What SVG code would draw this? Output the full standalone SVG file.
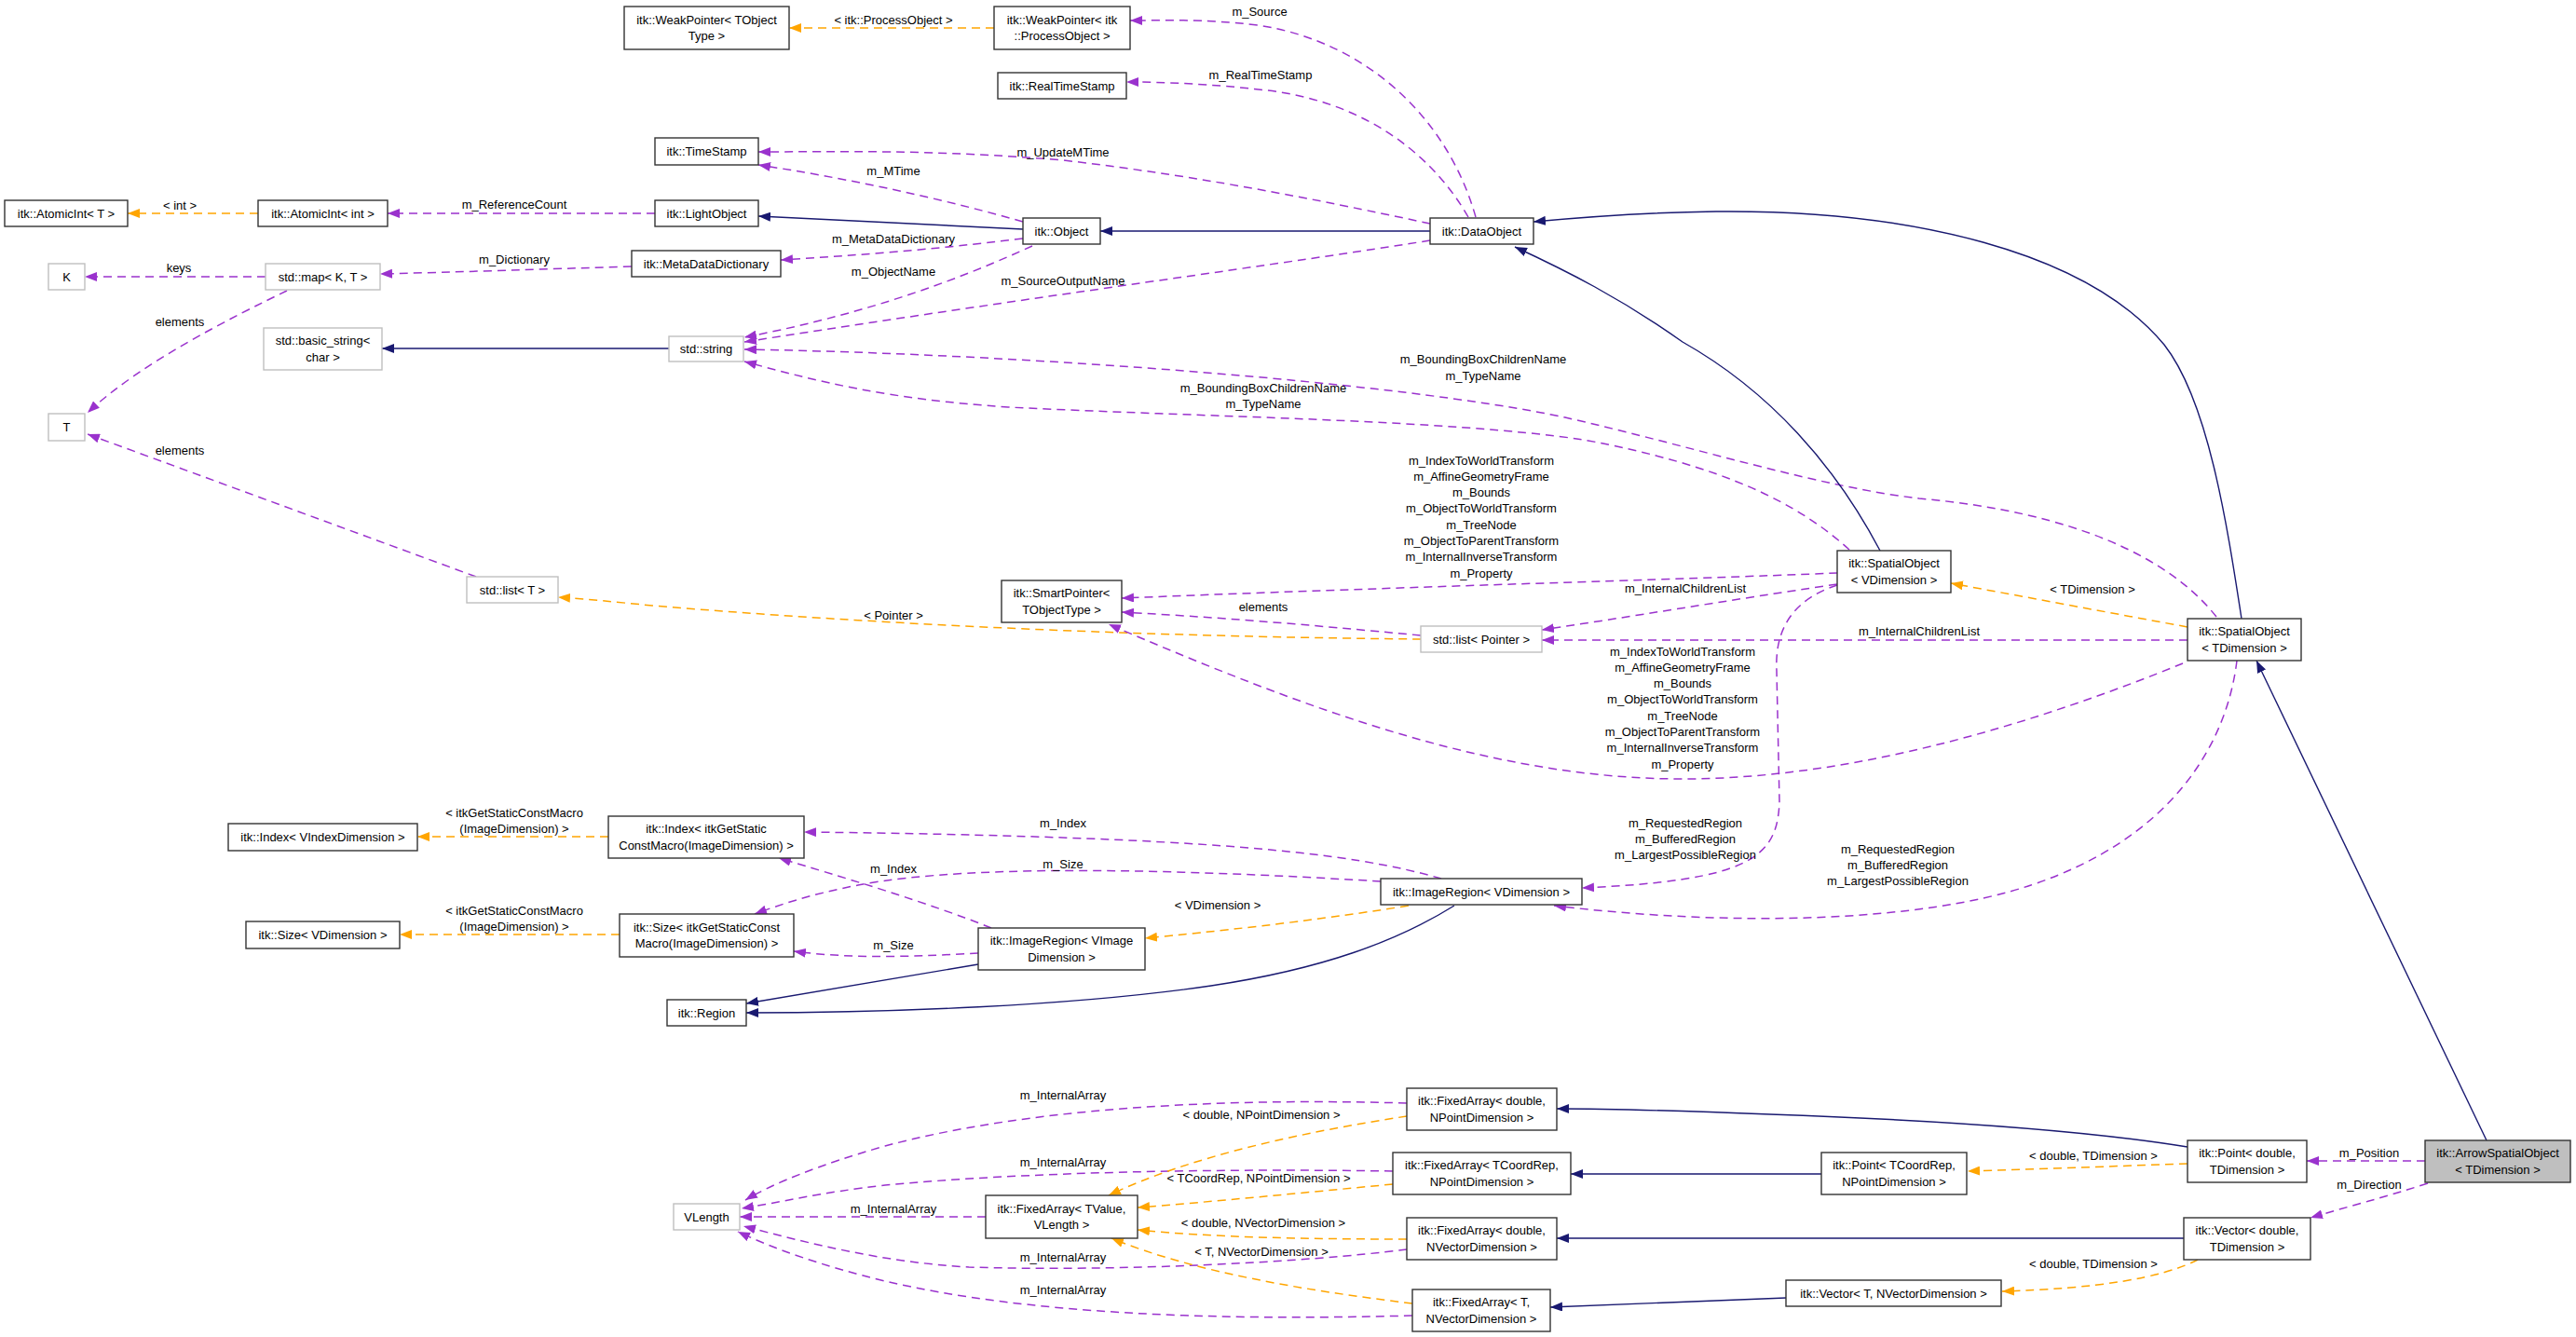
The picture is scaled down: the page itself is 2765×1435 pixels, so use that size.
<svg xmlns="http://www.w3.org/2000/svg" width="2765" height="1435" viewBox="0 0 2765 1435">
<style>
text{font-family:"Liberation Sans",Arial,Helvetica,sans-serif;font-size:13px;fill:#000;text-anchor:middle}
.n rect{fill:#fff;stroke:#333;stroke-width:1.4}
.g rect{fill:#fff;stroke:#bfbfbf;stroke-width:1.4}
.cur rect{fill:#bfbfbf;stroke:#333;stroke-width:1.4}
#edges path{fill:none}
.inh{stroke:#191970;stroke-width:1.4;marker-end:url(#ab)}
.use{stroke:#9a32cd;stroke-width:1.5;stroke-dasharray:9,6;marker-end:url(#ap)}
.tpl{stroke:#ffa500;stroke-width:1.5;stroke-dasharray:9,6;marker-end:url(#ao)}
</style>
<defs>
<marker id="ab" markerWidth="14" markerHeight="10" refX="13" refY="5" orient="auto" markerUnits="userSpaceOnUse"><path d="M0,0 L13,5 L0,10 z" fill="#191970"/></marker>
<marker id="ap" markerWidth="14" markerHeight="10" refX="13" refY="5" orient="auto" markerUnits="userSpaceOnUse"><path d="M0,0 L13,5 L0,10 z" fill="#9a32cd"/></marker>
<marker id="ao" markerWidth="14" markerHeight="10" refX="13" refY="5" orient="auto" markerUnits="userSpaceOnUse"><path d="M0,0 L13,5 L0,10 z" fill="#ffa500"/></marker>
</defs>
<rect width="2765" height="1435" fill="#fff"/>
<g id="edges">
<path class="tpl" d="M1067,30 L847,30"/>
<path class="use" d="M1584,233 C1555,130 1470,45 1350,27 C1290,20 1250,22 1213,22"/>
<path class="use" d="M1576,233 C1540,170 1470,110 1360,97 C1300,90 1250,88 1209,88"/>
<path class="use" d="M1535,240 C1450,222 1300,190 1141,172 C1000,160 900,163 814,163"/>
<path class="use" d="M1098,238 C1000,210 900,190 814,177"/>
<path class="inh" d="M1098,246 L814,232"/>
<path class="use" d="M703,229 L416,229"/>
<path class="tpl" d="M277,229 L137,229"/>
<path class="use" d="M1098,256 C1000,268 920,274 838,279"/>
<path class="use" d="M678,286 C580,289 490,292 408,294"/>
<path class="use" d="M285,297 L91,297"/>
<path class="use" d="M308,312 C250,340 150,390 94,443"/>
<path class="use" d="M511,619 L94,466"/>
<path class="inh" d="M718,374 L410,374"/>
<path class="use" d="M1108,264 C1040,295 940,335 799,362"/>
<path class="use" d="M1535,258 C1400,280 1100,320 799,367"/>
<path class="use" d="M2379,662 C2330,600 2230,550 2060,535 C1950,522 1820,480 1680,448 C1500,410 1100,380 799,375"/>
<path class="use" d="M1985,590 C1930,540 1850,500 1700,472 C1550,450 1300,448 1082,437 C950,428 880,410 799,388"/>
<path class="inh" d="M2018,591 C1970,500 1900,420 1806,367 C1740,320 1680,290 1626,265"/>
<path class="inh" d="M2406,664 C2390,560 2370,430 2323,370 C2240,270 2050,225 1842,227 C1760,228 1700,233 1646,238"/>
<path class="inh" d="M1535,248 L1181,248"/>
<path class="use" d="M1972,615 C1800,622 1500,630 1204,642"/>
<path class="use" d="M1525,682 C1400,670 1300,662 1204,657"/>
<path class="use" d="M1972,627 C1850,645 1750,662 1655,676"/>
<path class="use" d="M2348,687 L1655,687"/>
<path class="tpl" d="M1525,686 C1300,684 1000,675 700,650 C660,646 630,643 599,641"/>
<path class="tpl" d="M2348,673 L2094,626"/>
<path class="use" d="M2343,712 C2200,770 2000,836 1806,836 C1600,836 1400,760 1190,670"/>
<path class="use" d="M1972,628 C1920,645 1905,680 1907,720 L1910,860 C1908,920 1880,945 1698,953"/>
<path class="use" d="M2401,709 C2390,800 2330,900 2180,950 C2060,990 1860,995 1668,972"/>
<path class="use" d="M1547,943 C1450,915 1300,898 863,893"/>
<path class="use" d="M1482,946 C1300,935 1050,925 921,950 C870,960 840,970 810,981"/>
<path class="use" d="M1064,996 C1000,970 900,940 836,921"/>
<path class="use" d="M1050,1023 C990,1026 920,1030 852,1021"/>
<path class="inh" d="M1050,1035 L801,1077"/>
<path class="inh" d="M1561,972 C1500,1010 1420,1040 1300,1058 C1150,1080 950,1087 801,1087"/>
<path class="tpl" d="M1512,972 C1400,990 1300,1000 1229,1007"/>
<path class="tpl" d="M653,898 L448,898"/>
<path class="tpl" d="M665,1003 L429,1003"/>
<path class="inh" d="M2669,1224 L2422,709"/>
<path class="use" d="M2603,1246 L2476,1246"/>
<path class="use" d="M2606,1270 C2560,1285 2520,1295 2480,1307"/>
<path class="inh" d="M2348,1231 C2250,1215 2100,1203 1900,1196 C1800,1192 1720,1190 1671,1190"/>
<path class="tpl" d="M2348,1249 C2260,1252 2180,1255 2112,1257"/>
<path class="inh" d="M1955,1260 L1686,1260"/>
<path class="inh" d="M2344,1329 L1671,1329"/>
<path class="tpl" d="M2359,1352 C2320,1372 2250,1383 2149,1386"/>
<path class="inh" d="M1917,1393 L1664,1403"/>
<path class="use" d="M1510,1184 C1300,1178 1100,1190 950,1230 C880,1250 830,1270 800,1288"/>
<path class="use" d="M1495,1257 C1300,1254 1100,1258 950,1272 C880,1280 840,1290 796,1297"/>
<path class="use" d="M1058,1306 L794,1306"/>
<path class="use" d="M1510,1341 C1400,1355 1200,1365 1040,1360 C950,1355 870,1335 798,1316"/>
<path class="use" d="M1516,1412 C1300,1418 1100,1410 950,1375 C880,1358 830,1340 792,1322"/>
<path class="tpl" d="M1510,1198 C1400,1215 1280,1240 1190,1283"/>
<path class="tpl" d="M1495,1271 C1400,1280 1300,1290 1221,1296"/>
<path class="tpl" d="M1510,1330 C1400,1330 1300,1328 1221,1320"/>
<path class="tpl" d="M1516,1399 C1400,1385 1280,1365 1193,1329"/>
</g>
<g id="labels">
<text x="959" y="25.5">&lt; itk::ProcessObject &gt;</text>
<text x="1352" y="16.5">m_Source</text>
<text x="1353" y="84.5">m_RealTimeStamp</text>
<text x="1141" y="167.5">m_UpdateMTime</text>
<text x="959" y="187.5">m_MTime</text>
<text x="552" y="223.5">m_ReferenceCount</text>
<text x="193" y="224.5">&lt; int &gt;</text>
<text x="959" y="260.5">m_MetaDataDictionary</text>
<text x="552" y="282.5">m_Dictionary</text>
<text x="192" y="291.5">keys</text>
<text x="959" y="295.5">m_ObjectName</text>
<text x="1141" y="305.5">m_SourceOutputName</text>
<text x="193" y="349.5">elements</text>
<text x="1592" y="389.5">m_BoundingBoxChildrenName</text>
<text x="1592" y="407.5">m_TypeName</text>
<text x="1356" y="420.5">m_BoundingBoxChildrenName</text>
<text x="1356" y="437.5">m_TypeName</text>
<text x="193" y="487.5">elements</text>
<text x="1590" y="498.5">m_IndexToWorldTransform</text>
<text x="1590" y="515.8">m_AffineGeometryFrame</text>
<text x="1590" y="533.1">m_Bounds</text>
<text x="1590" y="550.4">m_ObjectToWorldTransform</text>
<text x="1590" y="567.7">m_TreeNode</text>
<text x="1590" y="585">m_ObjectToParentTransform</text>
<text x="1590" y="602.3">m_InternalInverseTransform</text>
<text x="1590" y="619.6">m_Property</text>
<text x="1809" y="635.5">m_InternalChildrenList</text>
<text x="2246" y="636.5">&lt; TDimension &gt;</text>
<text x="1356" y="655.5">elements</text>
<text x="959" y="664.5">&lt; Pointer &gt;</text>
<text x="2060" y="681.5">m_InternalChildrenList</text>
<text x="1806" y="703.5">m_IndexToWorldTransform</text>
<text x="1806" y="720.8">m_AffineGeometryFrame</text>
<text x="1806" y="738.1">m_Bounds</text>
<text x="1806" y="755.4">m_ObjectToWorldTransform</text>
<text x="1806" y="772.7">m_TreeNode</text>
<text x="1806" y="790">m_ObjectToParentTransform</text>
<text x="1806" y="807.3">m_InternalInverseTransform</text>
<text x="1806" y="824.6">m_Property</text>
<text x="552" y="876.5">&lt; itkGetStaticConstMacro</text>
<text x="552" y="893.5">(ImageDimension) &gt;</text>
<text x="1809" y="887.5">m_RequestedRegion</text>
<text x="1809" y="904.5">m_BufferedRegion</text>
<text x="1809" y="921.5">m_LargestPossibleRegion</text>
<text x="2037" y="915.5">m_RequestedRegion</text>
<text x="2037" y="932.5">m_BufferedRegion</text>
<text x="2037" y="949.5">m_LargestPossibleRegion</text>
<text x="1141" y="887.5">m_Index</text>
<text x="1141" y="931.5">m_Size</text>
<text x="959" y="936.5">m_Index</text>
<text x="1307" y="975.5">&lt; VDimension &gt;</text>
<text x="552" y="981.5">&lt; itkGetStaticConstMacro</text>
<text x="552" y="998.5">(ImageDimension) &gt;</text>
<text x="959" y="1018.5">m_Size</text>
<text x="1141" y="1179.5">m_InternalArray</text>
<text x="1354" y="1200.5">&lt; double, NPointDimension &gt;</text>
<text x="1141" y="1251.5">m_InternalArray</text>
<text x="1351" y="1268.5">&lt; TCoordRep, NPointDimension &gt;</text>
<text x="959" y="1301.5">m_InternalArray</text>
<text x="1356" y="1316.5">&lt; double, NVectorDimension &gt;</text>
<text x="1354" y="1347.5">&lt; T, NVectorDimension &gt;</text>
<text x="1141" y="1353.5">m_InternalArray</text>
<text x="1141" y="1388.5">m_InternalArray</text>
<text x="2543" y="1241.5">m_Position</text>
<text x="2247" y="1244.5">&lt; double, TDimension &gt;</text>
<text x="2543" y="1275.5">m_Direction</text>
<text x="2247" y="1360.5">&lt; double, TDimension &gt;</text>
</g>
<g id="n1" class="n"><rect x="670" y="7" width="177" height="46"/><text x="758.5" y="26">itk::WeakPointer&lt; TObject</text><text x="758.5" y="43">Type &gt;</text></g>
<g id="n2" class="n"><rect x="1067" y="7" width="146" height="46"/><text x="1140" y="26">itk::WeakPointer&lt; itk</text><text x="1140" y="43">::ProcessObject &gt;</text></g>
<g id="n3" class="n"><rect x="1071" y="78" width="138" height="28"/><text x="1140" y="96.5">itk::RealTimeStamp</text></g>
<g id="n4" class="n"><rect x="703" y="148" width="111" height="29"/><text x="758.5" y="167">itk::TimeStamp</text></g>
<g id="n5" class="n"><rect x="5" y="215" width="132" height="28"/><text x="71" y="233.5">itk::AtomicInt&lt; T &gt;</text></g>
<g id="n6" class="n"><rect x="277" y="215" width="139" height="28"/><text x="346.5" y="233.5">itk::AtomicInt&lt; int &gt;</text></g>
<g id="n7" class="n"><rect x="703" y="215" width="111" height="28"/><text x="758.5" y="233.5">itk::LightObject</text></g>
<g id="n8" class="n"><rect x="678" y="269" width="160" height="28"/><text x="758" y="287.5">itk::MetaDataDictionary</text></g>
<g id="n9" class="n"><rect x="1098" y="234" width="83" height="28"/><text x="1139.5" y="252.5">itk::Object</text></g>
<g id="n10" class="n"><rect x="1535" y="234" width="111" height="28"/><text x="1590.5" y="252.5">itk::DataObject</text></g>
<g id="n11" class="g"><rect x="52" y="283" width="39" height="28"/><text x="71.5" y="301.5">K</text></g>
<g id="n12" class="g"><rect x="285" y="283" width="123" height="28"/><text x="346.5" y="301.5">std::map&lt; K, T &gt;</text></g>
<g id="n13" class="g"><rect x="283" y="352" width="127" height="45"/><text x="346.5" y="370.3">std::basic_string&lt;</text><text x="346.5" y="387.7">char &gt;</text></g>
<g id="n14" class="g"><rect x="718" y="361" width="80" height="27"/><text x="758" y="379">std::string</text></g>
<g id="n15" class="g"><rect x="52" y="444" width="39" height="29"/><text x="71.5" y="463">T</text></g>
<g id="n16" class="g"><rect x="501" y="619" width="98" height="28"/><text x="550" y="637.5">std::list&lt; T &gt;</text></g>
<g id="n17" class="n"><rect x="1075" y="623" width="129" height="45"/><text x="1139.5" y="641.3">itk::SmartPointer&lt;</text><text x="1139.5" y="658.7">TObjectType &gt;</text></g>
<g id="n18" class="g"><rect x="1525" y="672" width="130" height="28"/><text x="1590" y="690.5">std::list&lt; Pointer &gt;</text></g>
<g id="n19" class="n"><rect x="1972" y="591" width="122" height="45"/><text x="2033" y="609.3">itk::SpatialObject</text><text x="2033" y="626.7">&lt; VDimension &gt;</text></g>
<g id="n20" class="n"><rect x="2348" y="664" width="122" height="45"/><text x="2409" y="682.3">itk::SpatialObject</text><text x="2409" y="699.7">&lt; TDimension &gt;</text></g>
<g id="n21" class="n"><rect x="245" y="884" width="203" height="29"/><text x="346.5" y="903">itk::Index&lt; VIndexDimension &gt;</text></g>
<g id="n22" class="n"><rect x="653" y="876" width="210" height="45"/><text x="758" y="894.3">itk::Index&lt; itkGetStatic</text><text x="758" y="911.7">ConstMacro(ImageDimension) &gt;</text></g>
<g id="n23" class="n"><rect x="1482" y="943" width="216" height="28"/><text x="1590" y="961.5">itk::ImageRegion&lt; VDimension &gt;</text></g>
<g id="n24" class="n"><rect x="264" y="989" width="165" height="29"/><text x="346.5" y="1008">itk::Size&lt; VDimension &gt;</text></g>
<g id="n25" class="n"><rect x="665" y="981" width="187" height="46"/><text x="758.5" y="999.8">itk::Size&lt; itkGetStaticConst</text><text x="758.5" y="1017.2">Macro(ImageDimension) &gt;</text></g>
<g id="n26" class="n"><rect x="1050" y="996" width="179" height="45"/><text x="1139.5" y="1014.3">itk::ImageRegion&lt; VImage</text><text x="1139.5" y="1031.7">Dimension &gt;</text></g>
<g id="n27" class="n"><rect x="716" y="1073" width="85" height="28"/><text x="758.5" y="1091.5">itk::Region</text></g>
<g id="n28" class="n"><rect x="1510" y="1168" width="161" height="45"/><text x="1590.5" y="1186.3">itk::FixedArray&lt; double,</text><text x="1590.5" y="1203.7">NPointDimension &gt;</text></g>
<g id="n29" class="n"><rect x="1495" y="1237" width="191" height="45"/><text x="1590.5" y="1255.3">itk::FixedArray&lt; TCoordRep,</text><text x="1590.5" y="1272.7">NPointDimension &gt;</text></g>
<g id="n30" class="n"><rect x="1955" y="1237" width="156" height="45"/><text x="2033" y="1255.3">itk::Point&lt; TCoordRep,</text><text x="2033" y="1272.7">NPointDimension &gt;</text></g>
<g id="n31" class="n"><rect x="2348" y="1224" width="128" height="45"/><text x="2412" y="1242.3">itk::Point&lt; double,</text><text x="2412" y="1259.7">TDimension &gt;</text></g>
<g id="n32" class="cur"><rect x="2603" y="1224" width="156" height="45"/><text x="2681" y="1242.3">itk::ArrowSpatialObject</text><text x="2681" y="1259.7">&lt; TDimension &gt;</text></g>
<g id="n33" class="g"><rect x="723" y="1292" width="71" height="28"/><text x="758.5" y="1310.5">VLength</text></g>
<g id="n34" class="n"><rect x="1058" y="1283" width="163" height="46"/><text x="1139.5" y="1301.8">itk::FixedArray&lt; TValue,</text><text x="1139.5" y="1319.2">VLength &gt;</text></g>
<g id="n35" class="n"><rect x="1510" y="1307" width="161" height="45"/><text x="1590.5" y="1325.3">itk::FixedArray&lt; double,</text><text x="1590.5" y="1342.7">NVectorDimension &gt;</text></g>
<g id="n36" class="n"><rect x="2344" y="1307" width="136" height="45"/><text x="2412" y="1325.3">itk::Vector&lt; double,</text><text x="2412" y="1342.7">TDimension &gt;</text></g>
<g id="n37" class="n"><rect x="1516" y="1384" width="148" height="45"/><text x="1590" y="1402.3">itk::FixedArray&lt; T,</text><text x="1590" y="1419.7">NVectorDimension &gt;</text></g>
<g id="n38" class="n"><rect x="1917" y="1374" width="231" height="28"/><text x="2032.5" y="1392.5">itk::Vector&lt; T, NVectorDimension &gt;</text></g>
</svg>
